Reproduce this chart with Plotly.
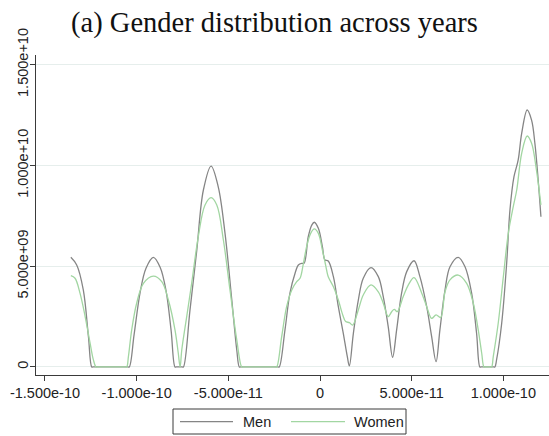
import plotly.graph_objects as go

# Kernel density of birth-year residuals, by gender
men_x = [-13.59, -13.27, -12.91, -12.63, -12.45, -12.38, -11.45, -10.48, -10.40, -10.14,
         -9.81, -9.49, -9.09, -8.72, -8.40, -8.12, -7.91, -7.84, -7.52, -7.45,
         -7.09, -6.72, -6.36, -5.94, -5.55, -5.18, -4.81, -4.54, -4.40, -4.33,
         -2.29, -2.22, -1.91, -1.64, -1.36, -1.18, -1.00, -0.87, -0.64, -0.45,
         -0.31, -0.09, 0.13, 0.27, 0.45, 0.73, 1.00, 1.27, 1.49, 1.60,
         1.82, 2.09, 2.36, 2.78, 3.18, 3.45, 3.72, 3.96, 4.18, 4.45,
         4.73, 5.13, 5.45, 5.82, 6.09, 6.33, 6.54, 6.82, 7.09, 7.54,
         7.91, 8.27, 8.54, 8.72, 8.79, 9.47, 9.54, 9.63, 9.91, 10.18,
         10.36, 10.58, 10.81, 11.00, 11.30, 11.54, 11.72, 11.90, 12.05]
men_y = [5.44, 5.06, 3.82, 1.50, 0, 0, 0, 0, 0, 1.6,
         3.7, 4.9, 5.44, 4.95, 3.8, 1.8, 0, 0, 0, 0,
         2.83, 5.8, 8.78, 9.97, 8.94, 6.63, 3.32, 0.84, 0, 0,
         0, 0, 1.84, 3.66, 4.65, 5.06, 5.14, 5.14, 6.46, 7.04,
         7.18, 6.88, 5.97, 5.31, 5.26, 4.48, 2.99, 1.67, 0.51, 0.05,
         1.67, 3.32, 4.40, 4.93, 4.48, 3.49, 2.00, 0.48, 1.84, 3.66,
         4.73, 5.27, 4.48, 2.99, 1.50, 0.26, 1.84, 3.82, 4.97, 5.44,
         4.97, 3.66, 1.67, 0, 0, 0, 0, 0.35, 2.17, 5.14,
         7.79, 9.44, 10.27, 11.59, 12.75, 12.25, 11.10, 9.28, 7.45]

women_x = [-13.59, -13.36, -13.09, -12.81, -12.54, -12.36, -12.22, -12.15, -10.61, -10.54,
           -10.45, -10.27, -10.00, -9.63, -9.09, -8.63, -8.27, -7.91, -7.73, -7.63,
           -7.54, -7.27, -7.00, -6.64, -6.27, -5.94, -5.63, -5.27, -4.91, -4.54,
           -4.27, -4.20, -2.43, -2.36, -2.09, -1.82, -1.54, -1.27, -1.09, -0.92,
           -0.73, -0.51, -0.31, -0.09, 0.13, 0.27, 0.36, 0.45, 0.73, 1.00,
           1.24, 1.40, 1.60, 1.78, 2.09, 2.36, 2.78, 3.18, 3.45, 3.72,
           3.91, 4.05, 4.21, 4.54, 4.82, 5.13, 5.55, 5.82, 6.09, 6.33,
           6.58, 6.82, 7.09, 7.54, 8.00, 8.36, 8.63, 8.82, 8.94, 9.01,
           9.29, 9.36, 9.45, 9.72, 10.00, 10.27, 10.54, 10.73, 11.00, 11.30,
           11.54, 11.78, 12.05]
women_y = [4.53, 4.40, 3.66, 2.50, 1.18, 0.35, 0, 0, 0, 0,
           0.51, 1.84, 3.16, 4.15, 4.51, 4.23, 3.32, 1.84, 0.68, 0,
           0.84, 2.50, 4.15, 6.46, 8.04, 8.40, 8.04, 6.30, 3.82, 1.34,
           0, 0, 0, 0, 1.50, 2.99, 3.82, 4.23, 4.40, 5.06,
           5.97, 6.63, 6.85, 6.63, 5.80, 5.22, 4.81, 4.48, 3.98, 3.32,
           2.58, 2.25, 2.20, 2.08, 2.83, 3.57, 4.07, 3.73, 3.16, 2.50,
           2.74, 2.86, 2.74, 3.49, 4.07, 4.43, 3.66, 2.99, 2.41, 2.58,
           2.45, 3.73, 4.32, 4.56, 4.15, 3.16, 1.84, 0.68, 0, 0,
           0, 0, 0.51, 2.17, 4.48, 6.63, 7.95, 8.78, 10.60, 11.46,
           11.10, 9.93, 8.04]

# units of the stored values
X_UNIT = 1e-11
Y_UNIT = 1e9

x_tick_vals = [-1.5e-10, -1.0e-10, -5.0e-11, 0, 5.0e-11, 1.0e-10]
x_tick_text = ["-1.500e-10", "-1.000e-10", "-5.000e-11", "0", "5.000e-11", "1.000e-10"]
y_tick_vals = [0, 5.0e9, 1.0e10, 1.5e10]
y_tick_text = ["0", "5.000e+09", "1.000e+10", "1.500e+10"]

series_names = ["Men", "Women"]
series_colors = ["#858585", "#a2d6a2"]

W, H = 549, 436
ML, MR, MT, MB = 36, 0, 55, 61
PW, PH = W - ML - MR, H - MT - MB

fig = go.Figure()
for name, xs, ys, col in [(series_names[0], men_x, men_y, series_colors[0]),
                          (series_names[1], women_x, women_y, series_colors[1])]:
    fig.add_trace(go.Scatter(
        x=[v * X_UNIT for v in xs], y=[v * Y_UNIT for v in ys],
        mode="lines", name=name,
        line=dict(color=col, width=1.3, shape="spline", smoothing=1.0),
        showlegend=False,
    ))

axis_col = "#3a3a3a"
tick_font = dict(family="Liberation Sans, Arial", size=14.5, color="#222")
fig.update_xaxes(
    range=[-15.49e-11, 12.49e-11],
    tickvals=x_tick_vals, ticktext=x_tick_text,
    showline=True, linecolor=axis_col, linewidth=1,
    ticks="outside", ticklen=5, tickcolor=axis_col, tickwidth=1,
    showgrid=False, zeroline=False,
    tickfont=tick_font,
)
fig.update_yaxes(
    range=[-0.40e9, 15.48e9],
    tickvals=y_tick_vals, ticktext=y_tick_text, tickangle=-90,
    showline=True, linecolor=axis_col, linewidth=1,
    ticks="outside", ticklen=5, tickcolor=axis_col, tickwidth=1,
    showgrid=True, gridcolor="#e6eeec", gridwidth=1, zeroline=False,
    ticklabelstandoff=-4,
    tickfont=tick_font,
)

# Legend box drawn below the plot
def px_x(p):
    return (p - ML) / PW

def px_y(p):
    return (H - MB - p) / PH

box = (173, 409, 406, 434)
fig.add_shape(type="rect", xref="paper", yref="paper",
              x0=px_x(box[0]), x1=px_x(box[2]), y0=px_y(box[1]), y1=px_y(box[3]),
              line=dict(color="#3a3a3a", width=1), fillcolor="white")
ly = 421.7
entries = [(180, 233, 243, series_names[0], series_colors[0]),
           (291, 345, 354, series_names[1], series_colors[1])]
for x0, x1, xt, name, col in entries:
    fig.add_shape(type="line", xref="paper", yref="paper",
                  x0=px_x(x0), x1=px_x(x1), y0=px_y(ly), y1=px_y(ly),
                  line=dict(color=col, width=1.3))
    fig.add_annotation(xref="paper", yref="paper", x=px_x(xt), y=px_y(ly),
                       text=name, showarrow=False, xanchor="left", yanchor="middle",
                       xshift=-2,
                       font=dict(family="Liberation Sans, Arial", size=14.5, color="#222"))

fig.update_layout(
    width=W, height=H,
    margin=dict(l=ML, r=MR, t=MT, b=MB),
    paper_bgcolor="white", plot_bgcolor="white",
    title=dict(text="(a) Gender distribution across years",
               x=0.5, xanchor="center", xref="container",
               y=1 - 22 / H, yanchor="middle", yref="container",
               font=dict(family="Liberation Serif, Times New Roman", size=28.5, color="#111")),
)

fig.write_html("out.html")
